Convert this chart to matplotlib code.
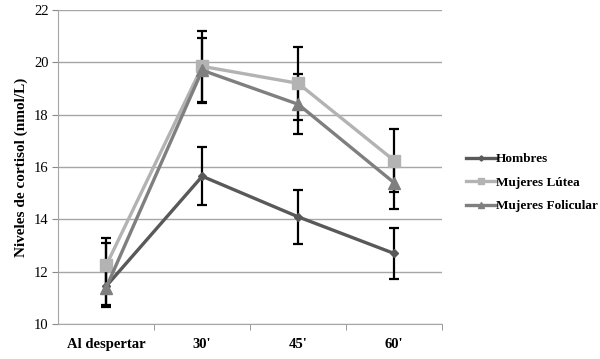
import numpy as np
import matplotlib
matplotlib.use('Agg')
import matplotlib.pyplot as plt
from matplotlib.ticker import FixedLocator

categories = ['Al despertar', "30'", "45'", "60'"]

hombres = [11.45, 15.65, 14.1, 12.7]
hombres_err_low = [0.7, 1.1, 1.03, 0.97]
hombres_err_high = [1.65, 1.1, 1.03, 0.97]
lutea = [12.25, 19.85, 19.2, 16.25]
lutea_err = [1.05, 1.35, 1.4, 1.2]
folicular = [11.4, 19.7, 18.4, 15.4]
folicular_err = [0.75, 1.25, 1.15, 1.0]

series = [
    ('Hombres', hombres, [hombres_err_low, hombres_err_high], '#595959', 'D', 4.5),
    ('Mujeres Lútea', lutea, lutea_err, '#b3b3b3', 's', 8),
    ('Mujeres Folicular', folicular, folicular_err, '#7f7f7f', '^', 8),
]

plt.rcParams['font.family'] = ['Liberation Serif', 'DejaVu Serif']

fig = plt.figure(figsize=(6, 3.59), dpi=100)
ax = fig.add_axes([0.097, 0.097, 0.64, 0.875])

x = np.arange(len(categories))
for name, vals, errs, col, mk, ms in series:
    ax.errorbar(x, vals, yerr=errs, fmt='none', ecolor='black', elinewidth=1.6,
                capsize=3.5, capthick=1.6, zorder=2)
for name, vals, errs, col, mk, ms in series:
    ax.plot(x, vals, color=col, lw=2.4, marker=mk, markersize=ms,
            markeredgecolor=col, label=name, zorder=3)

ax.set_xlim(-0.5, 3.5)
ax.set_ylim(10, 22)
ax.set_yticks(range(10, 23, 2))
ax.set_xticks(x)
ax.set_xticklabels(categories, fontweight='bold', fontsize=10.5)
ax.xaxis.set_minor_locator(FixedLocator([0.5, 1.5, 2.5, 3.5]))
ax.tick_params(axis='x', which='major', length=0, pad=10)
ax.tick_params(axis='x', which='minor', length=4, color='#888888', direction='out')
ax.tick_params(axis='y', length=4, color='#888888', labelsize=10.5, pad=3)
ax.grid(axis='y', color='#a6a6a6', lw=1)
ax.set_axisbelow(True)
for s in ['top', 'right']:
    ax.spines[s].set_visible(False)
for s in ['left', 'bottom']:
    ax.spines[s].set_color('#a6a6a6')
ax.set_ylabel('Niveles de cortisol (nmol/L)', fontweight='bold', fontsize=11)

ax.legend(loc='center left', bbox_to_anchor=(1.03, 0.45), frameon=False,
          prop={'weight': 'bold', 'size': 9.5}, handlelength=2.3,
          handletextpad=0.0, labelspacing=0.85, markerscale=0.6)

fig.savefig('out.png', dpi=100)
